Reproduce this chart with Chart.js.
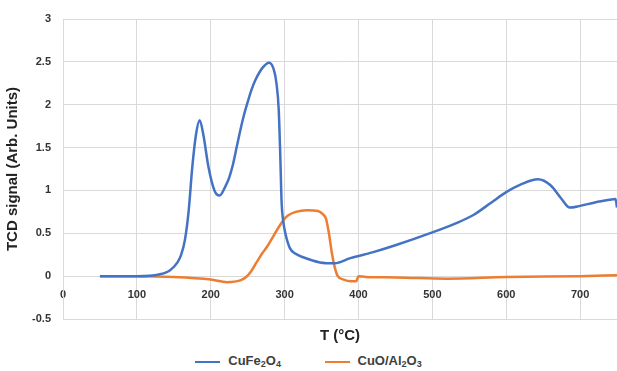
<!DOCTYPE html>
<html>
<head>
<meta charset="utf-8">
<script src="https://cdn.jsdelivr.net/npm/chart.js@4"></script>
<style>
  body { margin: 0; background: #fff; }
  #wrap { position: relative; width: 617px; height: 371px; }
  #legend { position: absolute; left: 0; top: 353px; width: 617px; text-align: center;
            font: bold 13px "Liberation Sans", Arial, sans-serif; color: #404040; }
  #legend span.item { display: inline-block; margin: 0 20px; }
  #legend i { display: inline-block; width: 25px; height: 2px; vertical-align: middle; margin-right: 8px; }
  #legend sub { font-size: 9px; vertical-align: -2px; }
</style>
</head>
<body>
<div id="wrap">
  <canvas id="tpr" width="617" height="345"></canvas>
  <div id="legend">
    <span class="item"><i style="background:#4472C4"></i>CuFe<sub>2</sub>O<sub>4</sub></span>
    <span class="item"><i style="background:#ED7D31"></i>CuO/Al<sub>2</sub>O<sub>3</sub></span>
  </div>
</div>
<script>
const cuFeT = [50,100,130,145,155,160,165,170,175,180,185,190,197,205,212,220,225,230,235,240,245,250,255,260,270,279,285,289,292,294,296,298,301,307,315,325,348,368,389,420,450,500,530,555,580,600,620,643,660,675,686,700,720,740,748,750];
const cuFeSignal = [0,0,0.02,0.07,0.16,0.25,0.42,0.75,1.27,1.65,1.82,1.65,1.27,1.0,0.94,1.05,1.15,1.3,1.5,1.7,1.88,2.03,2.17,2.28,2.43,2.49,2.42,2.25,1.95,1.45,0.85,0.65,0.5,0.33,0.26,0.22,0.16,0.15,0.21,0.28,0.36,0.51,0.61,0.71,0.86,0.98,1.07,1.13,1.06,0.9,0.8,0.82,0.86,0.89,0.9,0.8];

const cuAlT = [50,100,150,200,222,240,248,255,262,270,276,285,292,298,305,315,330,345,352,356,360,364,368,372,380,389,397,400,410,450,520,600,700,750];
const cuAlSignal = [0,0,-0.01,-0.04,-0.07,-0.05,-0.01,0.06,0.16,0.27,0.34,0.47,0.57,0.65,0.71,0.75,0.77,0.76,0.72,0.67,0.5,0.27,0.1,0.0,-0.04,-0.06,-0.06,0.0,-0.01,-0.015,-0.03,-0.01,0,0.01];

const xTicks = [0,100,200,300,400,500,600,700];

function pts(xs, ys) { return xs.map((x, i) => ({ x: x, y: ys[i] })); }

const tickFont = { family: '"Liberation Sans", Arial, sans-serif', size: 11, weight: 'bold' };
const titleFont = { family: '"Liberation Sans", Arial, sans-serif', size: 15, weight: 'bold' };

new Chart(document.getElementById('tpr'), {
  type: 'line',
  data: {
    datasets: [
      { label: 'CuFe₂O₄', data: pts(cuFeT, cuFeSignal), borderColor: '#4472C4', borderWidth: 2.5,
        pointRadius: 0, cubicInterpolationMode: 'monotone', xAxisID: 'x', yAxisID: 'y' },
      { label: 'CuO/Al₂O₃', data: pts(cuAlT, cuAlSignal), borderColor: '#ED7D31', borderWidth: 2.5,
        pointRadius: 0, cubicInterpolationMode: 'monotone', xAxisID: 'x', yAxisID: 'y' }
    ]
  },
  options: {
    responsive: false,
    animation: false,
    layout: { padding: { left: 0, right: 0, top: 19, bottom: 0 } },
    plugins: { legend: { display: false }, tooltip: { enabled: false } },
    scales: {
      x: {
        type: 'linear', min: 0, max: 750,
        position: { y: 0 },
        afterBuildTicks: s => { s.ticks = xTicks.map(v => ({ value: v })); },
        ticks: { font: tickFont, color: '#333', padding: 12, maxRotation: 0 },
        grid: { color: '#d9d9d9', drawTicks: false },
        border: { display: false }
      },
      x2: {
        type: 'linear', min: 0, max: 750, position: 'bottom',
        ticks: { display: false },
        grid: { display: false },
        border: { display: false },
        title: { display: true, text: 'T (°C)', font: titleFont, color: '#222', padding: { top: 2, bottom: 0 } },
        afterFit: s => { s.height = 26; }
      },
      y: {
        min: -0.5, max: 3,
        ticks: { stepSize: 0.5, font: tickFont, color: '#333', padding: 12, callback: v => String(v) },
        grid: { color: '#d9d9d9', drawTicks: false },
        border: { color: '#d9d9d9' },
        title: { display: true, text: 'TCD signal (Arb. Units)', font: titleFont, color: '#222', padding: { top: 4, bottom: 0 } },
        afterFit: s => { s.width = 63; }
      }
    }
  }
});
</script>
</body>
</html>
